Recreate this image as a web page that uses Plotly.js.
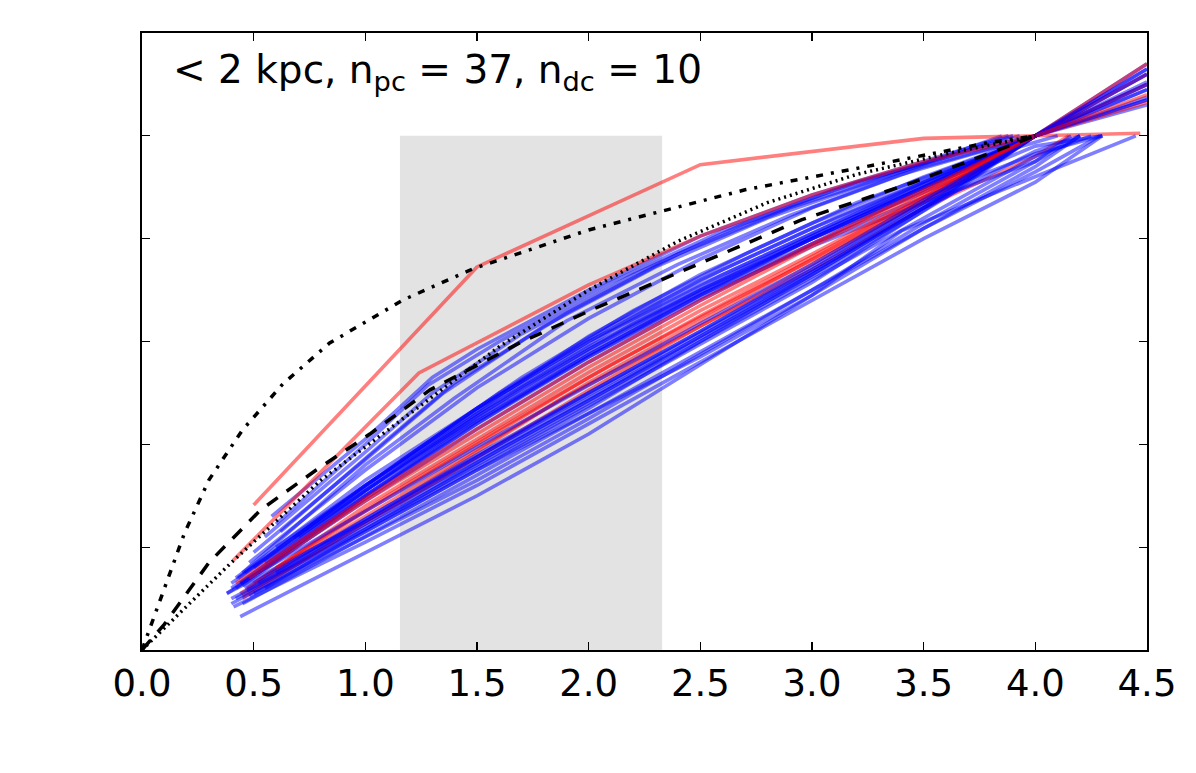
<!DOCTYPE html>
<html>
<head>
<meta charset="utf-8">
<script src="https://cdn.plot.ly/plotly-3.0.1.min.js"></script>
<style>html,body{margin:0;padding:0;background:#fff;}#chart{width:1196px;height:773px;}</style>
</head>
<body>
<div id="chart"></div>
<script>
// ---- Data ----
const xTickVals = [0, 0.5, 1.0, 1.5, 2.0, 2.5, 3.0, 3.5, 4.0, 4.5];
const xTickText = ["0.0", "0.5", "1.0", "1.5", "2.0", "2.5", "3.0", "3.5", "4.0", "4.5"];
const yTickVals = [0, 0.2, 0.4, 0.6, 0.8, 1.0, 1.2];

const annotationText = "&lt; 2 kpc, n<sub>pc</sub> = 37, n<sub>dc</sub> = 10";

const bandX = [1.155, 2.329];
const bandY = [0, 1.0];

// Blue profiles (37)
const blueXs = [
  [0.58,1.0,1.3,1.5,2.0,2.5,3.0,3.5,3.88],
  [0.6,1.0,1.28,1.6,2.1,2.6,3.1,3.6,3.93],
  [0.55,1.0,1.3,1.7,2.2,2.7,3.2,3.7,4.0],
  [0.5,1.0,1.35,1.8,2.3,2.8,3.3,3.85],
  [0.62,1.1,1.4,1.9,2.4,2.9,3.4,3.9],
  [0.45,1.0,1.4,1.9,2.4,2.9,3.4,4.0],
  [0.48,1.0,1.5,2.0,2.5,3.0,3.5,4.0],
  [0.68,1.2,1.7,2.2,2.7,3.2,3.7,4.1],
  [0.42,1.0,1.5,2.0,2.5,3.0,3.5,4.0,4.5],
  [0.44,1.0,1.5,2.0,2.5,3.0,3.5,4.0,4.5],
  [0.4,1.0,1.5,2.0,2.5,3.0,3.5,4.0,4.5],
  [0.46,1.0,1.5,2.0,2.5,3.0,3.5,4.0,4.3],
  [0.5,1.0,1.5,2.0,2.5,3.0,3.5,4.0,4.5],
  [0.38,1.0,1.5,2.0,2.5,3.0,3.5,4.0,4.5],
  [0.55,1.1,1.6,2.1,2.6,3.1,3.6,4.0],
  [0.42,0.9,1.4,1.9,2.4,2.9,3.4,4.0,4.5],
  [0.7,1.2,1.7,2.2,2.7,3.2,3.7,4.0],
  [0.45,1.0,1.5,2.0,2.5,3.0,3.5,4.0,4.3],
  [0.4,1.0,1.5,2.0,2.5,3.0,3.5,4.0,4.5],
  [0.52,1.0,1.5,2.0,2.5,3.0,3.5,4.0,4.2],
  [0.6,1.1,1.6,2.1,2.6,3.1,3.6,4.0,4.5],
  [0.43,1.0,1.5,2.0,2.5,3.0,3.5,4.0,4.5],
  [0.44,1.0,1.5,2.0,2.5,3.0,3.4,4.45],
  [0.41,1.0,1.5,2.0,2.5,3.0,3.5,4.0,4.3],
  [0.45,1.0,1.5,2.0,2.5,3.0,3.5,4.0,4.16],
  [0.4,1.0,1.5,2.0,2.5,3.0,3.5,4.0,4.5],
  [0.5,1.0,1.5,2.0,2.5,3.0,3.5,4.0,4.5],
  [0.38,1.0,1.5,2.0,2.5,3.0,3.5,4.0,4.2],
  [0.46,1.0,1.5,2.0,2.5,3.0,3.5,4.0,4.5],
  [0.42,1.0,1.5,2.0,2.5,3.0,3.5,4.0,4.25],
  [0.55,1.1,1.6,2.1,2.6,3.1,3.6,4.0],
  [0.48,1.0,1.5,2.0,2.5,3.0,3.5,4.0,4.29],
  [0.44,1.0,1.5,2.0,2.5,3.0,3.5,4.0,4.5],
  [0.6,1.1,1.6,2.1,2.6,3.1,3.6,4.0],
  [0.4,1.0,1.5,2.0,2.5,3.0,3.5,4.0,4.2],
  [0.52,1.0,1.5,2.0,2.5,3.0,3.5,4.0,4.5],
  [0.47,1.0,1.5,2.0,2.5,3.0,3.5,4.0]
];
const blueYs = [
  [0.26,0.41,0.53,0.585,0.70,0.805,0.885,0.95,1.0],
  [0.245,0.40,0.515,0.60,0.715,0.815,0.895,0.96,1.0],
  [0.22,0.385,0.50,0.615,0.73,0.83,0.91,0.97,1.0],
  [0.19,0.37,0.50,0.63,0.745,0.84,0.915,1.0],
  [0.23,0.41,0.52,0.655,0.77,0.86,0.93,1.0],
  [0.15,0.36,0.49,0.64,0.75,0.845,0.925,1.0],
  [0.17,0.35,0.51,0.645,0.76,0.86,0.94,1.0],
  [0.218,0.38,0.53,0.66,0.77,0.87,0.95,1.0],
  [0.14,0.33,0.47,0.60,0.71,0.81,0.91,1.0,1.09],
  [0.13,0.31,0.455,0.585,0.70,0.805,0.905,1.0,1.12],
  [0.12,0.30,0.44,0.57,0.69,0.80,0.90,1.0,1.10],
  [0.15,0.32,0.46,0.59,0.70,0.80,0.89,0.98,1.0],
  [0.16,0.32,0.465,0.61,0.73,0.83,0.92,1.0,1.075],
  [0.11,0.29,0.43,0.56,0.68,0.79,0.895,1.0,1.13],
  [0.17,0.34,0.49,0.62,0.73,0.83,0.925,1.0],
  [0.12,0.27,0.42,0.55,0.67,0.78,0.88,1.0,1.06],
  [0.22,0.37,0.51,0.635,0.745,0.845,0.935,1.0],
  [0.125,0.295,0.44,0.575,0.69,0.79,0.88,0.965,1.0],
  [0.13,0.31,0.45,0.58,0.695,0.80,0.90,1.0,1.14],
  [0.15,0.30,0.445,0.57,0.685,0.785,0.87,0.95,1.0],
  [0.20,0.35,0.50,0.63,0.74,0.84,0.93,1.0,1.07],
  [0.14,0.32,0.47,0.60,0.72,0.82,0.91,1.0,1.105],
  [0.065,0.19,0.30,0.42,0.555,0.69,0.815,1.0],
  [0.084,0.21,0.32,0.44,0.56,0.68,0.80,0.91,1.0],
  [0.09,0.22,0.34,0.46,0.58,0.70,0.83,0.95,1.0],
  [0.10,0.235,0.355,0.475,0.595,0.715,0.855,1.0,1.12],
  [0.11,0.23,0.35,0.47,0.60,0.73,0.86,1.0,1.07],
  [0.11,0.25,0.37,0.49,0.61,0.73,0.86,0.97,1.0],
  [0.12,0.255,0.38,0.50,0.62,0.74,0.87,1.0,1.10],
  [0.10,0.24,0.36,0.48,0.60,0.72,0.84,0.96,1.0],
  [0.12,0.26,0.39,0.51,0.63,0.75,0.88,1.0],
  [0.105,0.22,0.33,0.45,0.575,0.70,0.82,0.93,1.0],
  [0.13,0.27,0.395,0.515,0.635,0.75,0.875,1.0,1.09],
  [0.15,0.28,0.40,0.52,0.64,0.76,0.89,1.0],
  [0.09,0.23,0.35,0.46,0.57,0.69,0.82,0.94,1.0],
  [0.13,0.25,0.375,0.50,0.62,0.745,0.87,1.0,1.13],
  [0.115,0.245,0.365,0.485,0.61,0.735,0.86,1.0]
];

// Red profiles (10)
const redXs = [
  [0.5,1.5,2.5,3.5,4.47],
  [0.41,1.24,2.0,2.5,3.0,3.5,4.0],
  [0.45,1.0,1.885,2.5,3.0,3.5,4.0,4.15],
  [0.44,1.0,1.5,2.0,2.5,3.0,3.5,4.0,4.5],
  [0.47,1.0,1.5,2.0,2.5,3.0,3.5,4.0,4.5],
  [0.5,1.0,1.5,2.0,2.5,3.0,3.5,4.0,4.5],
  [0.45,1.0,1.5,2.0,2.5,3.0,3.5,4.0,4.5],
  [0.6,1.1,1.6,2.1,2.6,3.1,3.6,4.0],
  [0.42,1.0,1.5,2.0,2.5,3.0,3.5,4.0,4.5],
  [0.48,1.0,1.5,2.0,2.5,3.0,3.5,4.0]
];
const redYs = [
  [0.282,0.745,0.944,0.995,1.005],
  [0.175,0.539,0.71,0.805,0.885,0.95,1.0],
  [0.10,0.25,0.49,0.63,0.74,0.86,0.96,1.0],
  [0.11,0.26,0.39,0.52,0.64,0.76,0.88,1.0,1.12],
  [0.12,0.28,0.41,0.54,0.66,0.77,0.885,1.0,1.14],
  [0.13,0.27,0.40,0.53,0.65,0.765,0.88,1.0,1.065],
  [0.105,0.245,0.375,0.505,0.63,0.75,0.875,1.0,1.10],
  [0.16,0.30,0.43,0.555,0.67,0.78,0.895,1.0],
  [0.13,0.295,0.43,0.56,0.68,0.79,0.895,1.0,1.08],
  [0.14,0.29,0.42,0.55,0.67,0.785,0.89,1.0]
];

// Reference model curves
const dashDotX = [0,0.1,0.19,0.3,0.45,0.63,0.84,1.17,1.48,2.0,2.7,3.24,3.78,4.0];
const dashDotY = [0,0.117,0.227,0.331,0.428,0.517,0.597,0.681,0.741,0.817,0.895,0.94,0.986,1.0];
const dottedX = [0,0.4,0.8,1.2,1.6,2.0,2.4,2.8,3.2,3.6,4.0];
const dottedY = [0,0.17,0.33,0.46,0.59,0.70,0.795,0.87,0.925,0.965,1.0];
const dashedX = [0,0.1,0.3,0.53,0.78,1.02,1.29,1.69,2.01,2.46,2.955,3.45,4.0];
const dashedY = [0,0.05,0.17,0.272,0.35,0.42,0.506,0.597,0.661,0.745,0.837,0.909,1.0];

// ---- Traces (reds interleaved among blues) ----
const traces = [];
function colorTrace(xs, ys, color) {
  return {x: xs, y: ys, type: 'scatter', mode: 'lines',
    line: {color: color, width: 3.6}, hoverinfo: 'skip', showlegend: false};
}
const blueC = 'rgba(0,0,255,0.5)';
const redC = 'rgba(255,0,0,0.5)';
let r = 0;
blueXs.forEach((xs, i) => {
  traces.push(colorTrace(xs, blueYs[i], blueC));
  if (i % 4 === 3 && r < redXs.length) { traces.push(colorTrace(redXs[r], redYs[r], redC)); r++; }
});
while (r < redXs.length) { traces.push(colorTrace(redXs[r], redYs[r], redC)); r++; }

traces.push({x: dashDotX, y: dashDotY, type: 'scatter', mode: 'lines',
  line: {color: '#000', width: 3.5, dash: '7px,8px,3px,8px'}, hoverinfo: 'skip', showlegend: false});
traces.push({x: dottedX, y: dottedY, type: 'scatter', mode: 'lines',
  line: {color: '#000', width: 3.5, dash: '2px,4px'}, hoverinfo: 'skip', showlegend: false});
traces.push({x: dashedX, y: dashedY, type: 'scatter', mode: 'lines',
  line: {color: '#000', width: 3.5, dash: '13px,11px'}, hoverinfo: 'skip', showlegend: false});

const font = 'DejaVu Sans, sans-serif';
const layout = {
  width: 1196, height: 773,
  margin: {l: 142, r: 49, t: 33, b: 123, pad: 0},
  paper_bgcolor: '#fff', plot_bgcolor: '#fff',
  showlegend: false,
  xaxis: {
    range: [0, 4.5], tickmode: 'array', tickvals: xTickVals, ticktext: xTickText,
    ticks: 'inside', ticklen: 8, tickwidth: 1.3, tickcolor: '#000',
    showline: true, linecolor: '#000', linewidth: 2, mirror: 'ticks',
    showgrid: false, zeroline: false,
    tickfont: {family: font, size: 37, color: '#000'}
  },
  yaxis: {
    range: [0, 1.2], tickmode: 'array', tickvals: yTickVals,
    showticklabels: false,
    ticks: 'inside', ticklen: 8, tickwidth: 1.3, tickcolor: '#000',
    showline: true, linecolor: '#000', linewidth: 2, mirror: 'ticks',
    showgrid: false, zeroline: false
  },
  shapes: [{
    type: 'rect', xref: 'x', yref: 'y', x0: bandX[0], x1: bandX[1], y0: bandY[0], y1: bandY[1],
    fillcolor: '#e3e3e3', line: {width: 0}, layer: 'below'
  }],
  annotations: [{
    text: annotationText, xref: 'paper', yref: 'paper', x: 0.029, y: 0.98,
    xanchor: 'left', yanchor: 'top', showarrow: false,
    font: {family: font, size: 39, color: '#000'}
  }]
};

Plotly.newPlot('chart', traces, layout, {displayModeBar: false, staticPlot: true});
</script>
</body>
</html>
